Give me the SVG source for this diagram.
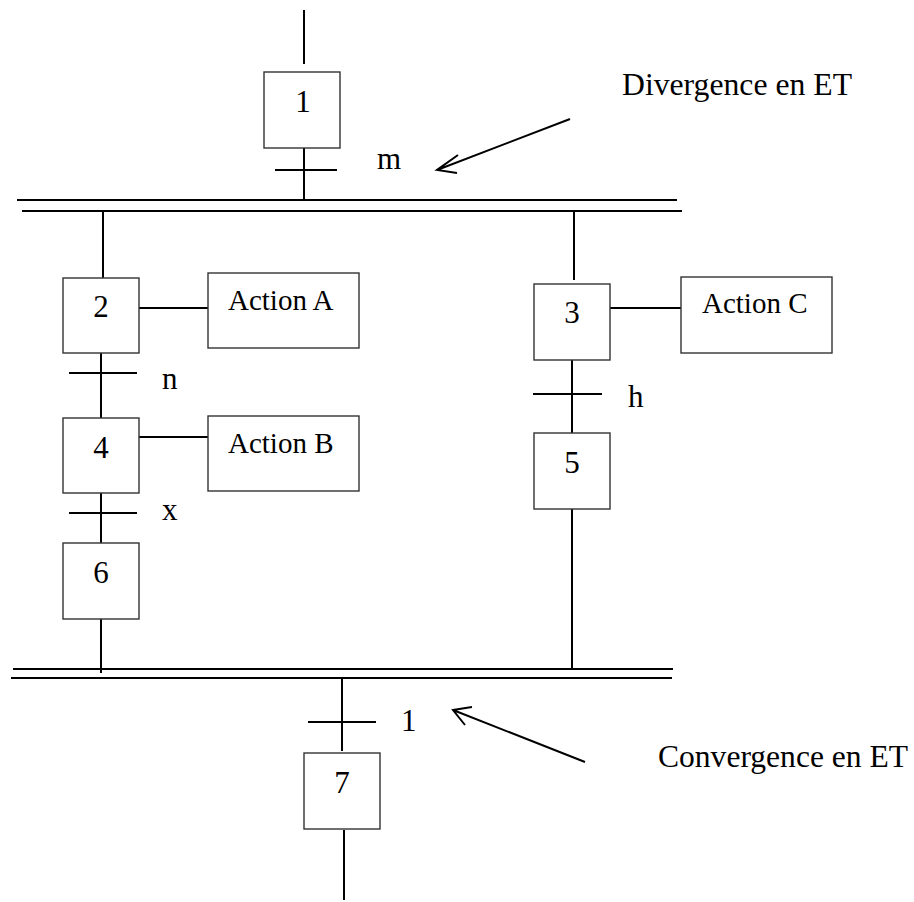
<svg xmlns="http://www.w3.org/2000/svg" width="914" height="902" viewBox="0 0 914 902">
<style>
.step{fill:#fff;stroke:#333;stroke-width:1.4}
.ln{stroke:#000;stroke-width:2;fill:none}
.t{font-family:"Liberation Serif","Times New Roman",serif;font-size:31px;fill:#000}
.a{font-family:"Liberation Serif","Times New Roman",serif;font-size:29px;fill:#000}
</style>
<rect width="914" height="902" fill="#fff"/>
<g id="connectors">
<line class="ln" x1="304" y1="10" x2="304" y2="64"/>
<line class="ln" x1="304" y1="146" x2="304" y2="200"/>
<line class="ln" x1="275" y1="170" x2="337" y2="170"/>
<line class="ln" x1="17" y1="200" x2="677" y2="200"/>
<line class="ln" x1="22" y1="211" x2="682" y2="211"/>
<line class="ln" x1="103" y1="211" x2="103" y2="278"/>
<line class="ln" x1="139" y1="308" x2="208" y2="308"/>
<line class="ln" x1="101" y1="351" x2="101" y2="419"/>
<line class="ln" x1="69" y1="373" x2="137" y2="373"/>
<line class="ln" x1="139" y1="437" x2="208" y2="437"/>
<line class="ln" x1="101" y1="489" x2="101" y2="543"/>
<line class="ln" x1="69" y1="513" x2="137" y2="513"/>
<line class="ln" x1="101" y1="619" x2="101" y2="673"/>
<line class="ln" x1="574" y1="211" x2="574" y2="280"/>
<line class="ln" x1="610" y1="308" x2="681" y2="308"/>
<line class="ln" x1="572" y1="358" x2="572" y2="433"/>
<line class="ln" x1="533" y1="394" x2="602" y2="394"/>
<line class="ln" x1="572" y1="509" x2="572" y2="669"/>
<line class="ln" x1="13" y1="669" x2="673" y2="669"/>
<line class="ln" x1="11" y1="678" x2="672" y2="678"/>
<line class="ln" x1="342" y1="678" x2="342" y2="751"/>
<line class="ln" x1="308" y1="722" x2="376" y2="722"/>
<line class="ln" x1="344" y1="830" x2="344" y2="900"/>
<path class="ln" stroke-width="2.3" d="M570,119 L437,170 M458,155 L437,170 L457,173"/>
<path class="ln" stroke-width="2.3" d="M585,762 L453,710 M472,707 L453,710 L465,725"/>
</g>
<g id="step1"><rect class="step" x="264" y="72" width="76" height="76"/><text class="t" x="303" y="112" text-anchor="middle">1</text></g>
<g id="step2"><rect class="step" x="63" y="278" width="76" height="75"/><text class="t" x="101" y="317" text-anchor="middle">2</text></g>
<g id="step3"><rect class="step" x="534" y="284" width="76" height="76"/><text class="t" x="572" y="323" text-anchor="middle">3</text></g>
<g id="step4"><rect class="step" x="63" y="418" width="76" height="75"/><text class="t" x="101" y="458" text-anchor="middle">4</text></g>
<g id="step5"><rect class="step" x="534" y="433" width="76" height="76"/><text class="t" x="572" y="473" text-anchor="middle">5</text></g>
<g id="step6"><rect class="step" x="63" y="543" width="76" height="76"/><text class="t" x="101" y="583" text-anchor="middle">6</text></g>
<g id="step7"><rect class="step" x="304" y="753" width="76" height="76"/><text class="t" x="342" y="793" text-anchor="middle">7</text></g>
<g id="actionA"><rect class="step" x="208" y="273" width="151" height="75"/><text class="a" x="228" y="310">Action A</text></g>
<g id="actionB"><rect class="step" x="208" y="416" width="151" height="75"/><text class="a" x="228" y="453">Action B</text></g>
<g id="actionC"><rect class="step" x="681" y="277" width="151" height="76"/><text class="a" x="702" y="313">Action C</text></g>
<g id="labels">
<text class="t" x="377" y="169">m</text>
<text class="t" x="162" y="389">n</text>
<text class="t" x="162" y="520">x</text>
<text class="t" x="628" y="407">h</text>
<text class="t" x="401" y="731">1</text>
<text class="t" x="622" y="95" textLength="230" lengthAdjust="spacingAndGlyphs">Divergence en ET</text>
<text class="t" x="658" y="767" textLength="250" lengthAdjust="spacingAndGlyphs">Convergence en ET</text>
</g>
</svg>
